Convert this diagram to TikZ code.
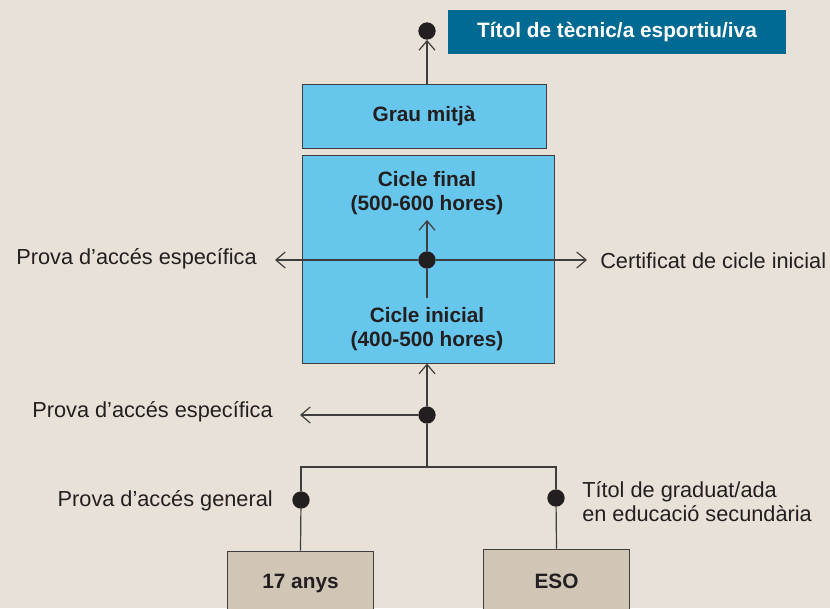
\documentclass[tikz,border=0pt]{standalone}
\usepackage{fontspec}
\setmainfont{Liberation Sans}
\usetikzlibrary{arrows.meta,positioning}

\definecolor{fons}{RGB}{232,225,215}
\definecolor{titol}{RGB}{0,106,146}
\definecolor{blau}{RGB}{102,198,236}
\definecolor{beix}{RGB}{209,197,182}
\definecolor{linia}{RGB}{62,62,62}
\definecolor{tinta}{RGB}{35,31,32}

\begin{document}
\begin{tikzpicture}[x=0.75pt,y=-0.75pt,
    font=\fontsize{16.3}{18}\selectfont,text=tinta,
    negreta/.style={font=\fontsize{15.6}{18}\selectfont\bfseries,align=center},
    caixa/.style={draw=linia,line width=0.75pt,fill=blau,inner sep=0pt,negreta},
    punt/.style={circle,fill=tinta,inner sep=0pt,minimum size=13pt},
    conn/.style={draw=linia,line width=0.9pt},
    fletxa/.style={-{Straight Barb[length=7pt,width=12pt]}},
    etiqueta/.style={inner sep=0pt}]

    % --------------------------------------------------------- %
    % ------------- background
    % --------------------------------------------------------- %
    \fill[fons] (0,0) rectangle (830,608);
    \clip (0,0) rectangle (830,608);

    % --------------------------------------------------------- %
    % ------------- boxes
    % --------------------------------------------------------- %
    \node[fill=titol,text=white,inner sep=0pt,minimum width=253.5pt,minimum height=33pt,negreta] (titol) at (617,32) {Títol de tècnic/a esportiu/iva};
    \node[caixa,minimum width=183pt,minimum height=48pt] (grau) at (424,116) {Grau mitjà};
    \node[caixa,minimum width=189pt,minimum height=156pt] (cicles) at (428,259) {};
    \node[etiqueta,negreta] (final) at (427,193) {Cicle final\\(500-600 hores)};
    \node[etiqueta,negreta] (inicial) at (427,329) {Cicle inicial\\(400-500 hores)};
    \node[caixa,fill=beix,minimum width=110pt,minimum height=48pt] (anys) at (300.5,583) {17 anys};
    \node[caixa,fill=beix,minimum width=110pt,minimum height=48pt] (eso) at (556.5,581) {ESO};

    % --------------------------------------------------------- %
    % ------------- dots
    % --------------------------------------------------------- %
    \node[punt] (ptop) at (427,31) {};
    \node[punt] (pmig) at (427,260) {};
    \node[punt] (pbaix) at (427,415) {};
    \node[punt] (pgen) at (301,500) {};
    \node[punt] (peso) at (556,498) {};

    \coordinate (vbaix) at (427,298);
    \coordinate (vdalt) at (427,220);
    \coordinate (hesq) at (275,260);
    \coordinate (hdre) at (587,260);
    \coordinate (besq) at (300,415);
    \coordinate (junc) at (427,467);

    % --------------------------------------------------------- %
    % ------------- connectors
    % --------------------------------------------------------- %
    \draw[conn,fletxa] (grau.north -| ptop) -- (ptop.south);
    \draw[conn] (vbaix) -- (pmig);
    \draw[conn,fletxa] (pmig) -- (vdalt);
    \draw[conn,fletxa] (pmig) -- (hesq);
    \draw[conn,fletxa] (pmig) -- (hdre);
    \draw[conn,fletxa] (pbaix) -- (cicles.south -| pbaix);
    \draw[conn,fletxa] (pbaix) -- (besq);
    \draw[conn] (pbaix) -- (junc);
    \draw[conn] (anys.north) -- (pgen);
    \draw[conn] (pgen) |- (junc) -| (peso);
    \draw[conn] (peso) -- (eso.north);

    % --------------------------------------------------------- %
    % ------------- labels
    % --------------------------------------------------------- %
    \node[etiqueta,anchor=east] (espec) at (257,259) {Prova d’accés específica};
    \node[etiqueta,anchor=west] (certif) at (600,261) {Certificat de cicle inicial};
    \node[etiqueta,anchor=east] (espec2) at (273,412) {Prova d’accés específica};
    \node[etiqueta,anchor=east] (general) at (273,501) {Prova d’accés general};
    \node[etiqueta,anchor=west,align=left] (graduat) at (582,502) {Títol de graduat/ada\\en educació secundària};

\end{tikzpicture}
\end{document}
